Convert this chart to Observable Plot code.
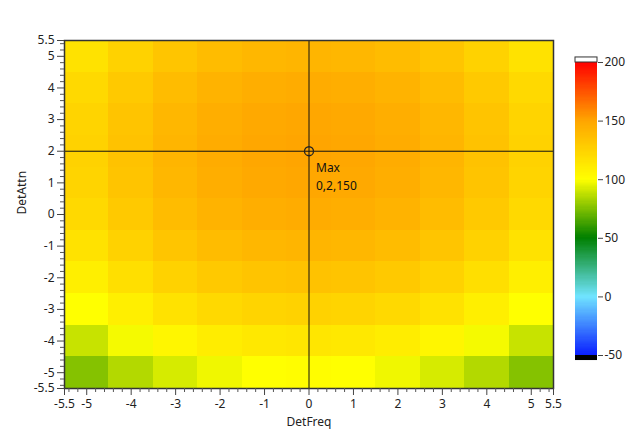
<!DOCTYPE html>
<html>
<head>
<meta charset="utf-8">
<script src="https://cdn.jsdelivr.net/npm/d3@7"></script>
<script src="https://cdn.jsdelivr.net/npm/@observablehq/plot@0.6"></script>
<style>
  html, body { margin: 0; padding: 0; background: #fff; }
  #wrap { position: relative; width: 627px; height: 433px; overflow: hidden; font-family: "Noto Sans", "Open Sans", sans-serif; }
  #wrap svg { position: absolute; overflow: visible; }
</style>
</head>
<body>
<div id="wrap"></div>
<script>
// ---- data ----
const detFreq = [-5, -4, -3, -2, -1, 0, 1, 2, 3, 4, 5];
const detAttn = [5, 4, 3, 2, 1, 0, -1, -2, -3, -4, -5];
const row5  = [116, 125, 132, 137, 140, 141, 140, 137, 132, 125, 116];
const row4  = [121, 130, 137, 142, 145, 146, 145, 142, 137, 130, 121];
const row3  = [124, 133, 140, 145, 148, 149, 148, 145, 140, 133, 124];
const row2  = [125, 134, 141, 146, 149, 150, 149, 146, 141, 134, 125];
const row1  = [124, 133, 140, 145, 148, 149, 148, 145, 140, 133, 124];
const row0  = [121, 130, 137, 142, 145, 146, 145, 142, 137, 130, 121];
const rowM1 = [116, 125, 132, 137, 140, 141, 140, 137, 132, 125, 116];
const rowM2 = [109, 118, 125, 130, 133, 134, 133, 130, 125, 118, 109];
const rowM3 = [100, 109, 116, 121, 124, 125, 124, 121, 116, 109, 100];
const rowM4 = [89, 98, 105, 110, 113, 114, 113, 110, 105, 98, 89];
const rowM5 = [76, 85, 92, 97, 100, 101, 100, 97, 92, 85, 76];
const rows = [row5, row4, row3, row2, row1, row0, rowM1, rowM2, rowM3, rowM4, rowM5];

const xTicks = [-5.5, -5, -4, -3, -2, -1, 0, 1, 2, 3, 4, 5, 5.5];
const yTicks = [-5.5, -5, -4, -3, -2, -1, 0, 1, 2, 3, 4, 5, 5.5];
const colorStops = [-50, 0, 50, 100, 150, 200];
const colorTicks = [-50, 0, 50, 100, 150, 200];
const colorRange = ["#0a1eff", "#70e4ff", "#008000", "#ffff00", "#ffa500", "#ff0000"];

// ---- build table ----
const cells = [];
detAttn.forEach((y, i) => detFreq.forEach((x, j) => cells.push({x, y, v: rows[i][j]})));
const maxCell = cells.reduce((a, b) => (b.v > a.v ? b : a));

const minor = d3.range(-27, 28).map(i => +(i * 0.2).toFixed(1)).filter(d => !Number.isInteger(d) && Math.abs(d) <= 5.5);

const colorScale = {type: "linear", domain: colorStops, range: colorRange, interpolate: "rgb"};
const font = "Noto Sans, Open Sans, sans-serif";

const main = Plot.plot({
  width: 627, height: 433,
  marginLeft: 64, marginRight: 74, marginTop: 40, marginBottom: 45,
  style: {fontFamily: font, fontSize: "12px", color: "#222", background: "transparent"},
  x: {domain: [-5.5, 5.5]},
  y: {domain: [-5.5, 5.5]},
  color: colorScale,
  marks: [
    Plot.rect(cells, {x1: d => d.x - 0.5, x2: d => d.x + 0.5, y1: d => d.y - 0.5, y2: d => d.y + 0.5, fill: "v", inset: 0, shapeRendering: "crispEdges"}),
    Plot.ruleX([maxCell], {x: "x", stroke: "#111", strokeWidth: 1}),
    Plot.ruleY([maxCell], {y: "y", stroke: "#111", strokeWidth: 1}),
    Plot.dot([maxCell], {x: "x", y: "y", r: 4.5, stroke: "#222", strokeWidth: 1.3, fill: "none"}),
    Plot.text([maxCell], {x: "x", y: "y", text: d => `Max\n${d.x},${d.y},${d.v}`, textAnchor: "start", lineAnchor: "top", dx: 7, dy: 8, lineHeight: 1.5, fontSize: 12, fill: "#111"}),
    Plot.frame({stroke: "#333", strokeWidth: 1.5}),
    Plot.axisX({ticks: xTicks, tickFormat: d => `${d}`, tickSize: 7, tickPadding: 4, label: null, stroke: "#444", fill: "#222"}),
    Plot.axisX({ticks: minor, tickFormat: () => "", tickSize: 4, label: null, stroke: "#555"}),
    Plot.axisY({ticks: yTicks, tickFormat: d => `${d}`, tickSize: 7, tickPadding: 3, label: null, stroke: "#444", fill: "#222"}),
    Plot.axisY({ticks: minor, tickFormat: () => "", tickSize: 4, label: null, stroke: "#555"}),
    Plot.text(["DetFreq"], {frameAnchor: "bottom", dy: 37, fontSize: 12, fill: "#222"}),
    Plot.text(["DetAttn"], {frameAnchor: "left", dx: -42, rotate: -90, fontSize: 12, fill: "#222"})
  ]
});
main.style.left = "0px";
main.style.top = "0px";

// ---- color bar ----
const barSteps = d3.range(-50, 200, 1);
const bar = Plot.plot({
  width: 57, height: 320,
  marginLeft: 5, marginRight: 30, marginTop: 12, marginBottom: 15,
  style: {fontFamily: font, fontSize: "12px", color: "#222", background: "transparent"},
  x: {domain: [0, 1], axis: null},
  y: {domain: [-50, 200]},
  color: colorScale,
  marks: [
    Plot.rect(barSteps, {x1: 0, x2: 1, y1: d => d, y2: d => d + 1, fill: d => d + 0.5, inset: 0, shapeRendering: "crispEdges"}),
    Plot.rect([200], {x1: 0, x2: 1, y1: d => d, y2: d => d + 4.3, fill: "#fff", stroke: "#333", strokeWidth: 1}),
    Plot.rect([-50], {x1: 0, x2: 1, y1: d => d - 4.3, y2: d => d, fill: "#000"}),
    Plot.axisY({anchor: "right", ticks: colorTicks, tickFormat: d => `${d}`, tickSize: 5, tickPadding: 2, label: null, stroke: "#444", fill: "#222"})
  ]
});
bar.style.left = "570px";
bar.style.top = "50px";

const wrap = document.getElementById("wrap");
wrap.appendChild(main);
wrap.appendChild(bar);
</script>
</body>
</html>
